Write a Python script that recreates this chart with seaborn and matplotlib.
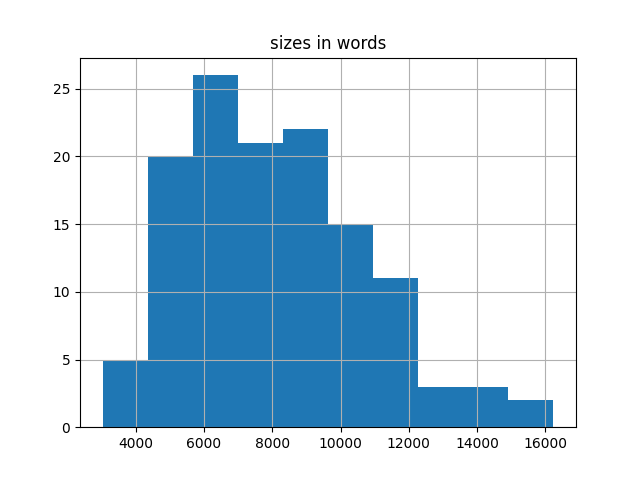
import numpy as np
import pandas as pd
import seaborn as sns
from matplotlib import pyplot as plt

# histogram: 10 equal bins
bin_start = 3030
bin_end = 16235
counts = [5, 20, 26, 21, 22, 15, 11, 3, 3, 2]


def main():
    edges = np.linspace(bin_start, bin_end, len(counts) + 1)
    centers = (edges[:-1] + edges[1:]) / 2
    df = pd.DataFrame({"size": centers, "count": counts})

    fig, ax = plt.subplots(figsize=(6.4, 4.8), dpi=100)
    sns.histplot(data=df, x="size", weights="count", bins=edges.tolist(), ax=ax,
                 color="#1f77b4", alpha=1, linewidth=0)
    ax.set_title("sizes in words")
    ax.set_xlabel("")
    ax.set_ylabel("")
    ax.grid(True)
    fig.savefig("out.png")


if __name__ == "__main__":
    main()
